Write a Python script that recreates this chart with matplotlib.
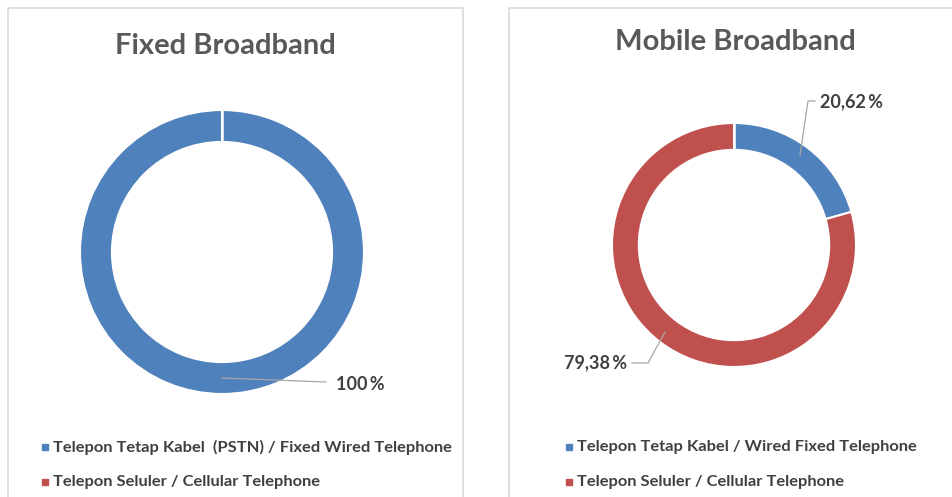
import matplotlib
matplotlib.use("Agg")
import matplotlib.pyplot as plt
from matplotlib.patches import Rectangle
from matplotlib.lines import Line2D

plt.rcParams['font.family'] = ['Lato', 'DejaVu Sans']

# ---- data ----
fixed_title = "Fixed Broadband"
fixed_labels = ["Telepon Tetap Kabel  (PSTN) / Fixed Wired Telephone",
                "Telepon Seluler / Cellular Telephone"]
fixed_values = [100, 0]

mobile_title = "Mobile Broadband"
mobile_labels = ["Telepon Tetap Kabel / Wired Fixed Telephone",
                 "Telepon Seluler / Cellular Telephone"]
mobile_values = [20.62, 79.38]

colors = ["#4F81BD", "#C0504D"]
W, H = 952, 497
TXT = "#404040"
GRAY = "#A6A6A6"

fig = plt.figure(figsize=(W / 100, H / 100), dpi=100)
fig.patch.set_facecolor("white")


def fx(px):
    return px / W


def fy(py):
    return 1 - py / H


# panel borders
for x0, x1 in [(8, 463), (509, 960)]:
    fig.patches.append(Rectangle((fx(x0), fy(505)), fx(x1) - fx(x0), fy(8) - fy(505),
                                 transform=fig.transFigure, fill=False,
                                 edgecolor="#D9D9D9", linewidth=1.2))


def fmt(v):
    s = f"{v:.2f}".replace(".", ",")
    if s.endswith(",00"):
        s = s[:-3]
    return s + "\u2009%"


def donut(cx, cy, R, width, values, title, title_x, title_y, labels, legend_x, label_specs):
    ax = fig.add_axes([fx(cx - R), fy(cy + R), fx(2 * R), (2 * R) / H])
    ax.axis("off")
    ax.pie(values, colors=colors, startangle=90, counterclock=False, radius=1,
           wedgeprops=dict(width=width, edgecolor="white", linewidth=1.5))
    ax.set_aspect("auto")
    ax.set_xlim(-1, 1)
    ax.set_ylim(-1, 1)
    # separator at 12 o'clock
    ax.plot([0, 0], [1 - width, 1], color="white", lw=1.8, zorder=5)

    fig.text(fx(title_x), fy(title_y), title, ha="center", va="center",
             fontsize=21, fontweight="bold", color="#595959")

    for (val, pts, tx, ty, ha) in label_specs:
        xs = [fx(p[0]) for p in pts]
        ys = [fy(p[1]) for p in pts]
        fig.lines.append(Line2D(xs, ys, transform=fig.transFigure, color=GRAY, lw=0.9))
        fig.text(fx(tx), fy(ty), fmt(val), ha=ha, va="center", fontsize=13,
                 fontweight="bold", color=TXT)

    for i, (lab, y) in enumerate(zip(labels, [447, 482])):
        fig.patches.append(Rectangle((fx(legend_x - 3), fy(y + 3)), 6 / W, 6 / H,
                                     transform=fig.transFigure, color=colors[i]))
        fig.text(fx(legend_x + 8), fy(y), lab, ha="left", va="center", fontsize=11.85,
                 fontweight="bold", color=TXT)


donut(222, 252, 142, 0.225, fixed_values, fixed_title, 225, 46, fixed_labels, 45,
      [(fixed_values[0], [(222, 378), (326, 382)], 336, 384, "left")])

donut(734, 245, 122, 0.22, mobile_values, mobile_title, 735, 42, mobile_labels, 569,
      [(mobile_values[0], [(800, 155), (808, 101), (815, 101)], 820, 102, "left"),
       (mobile_values[1], [(665, 332), (648, 363), (632, 363)], 627, 363, "right")])

fig.savefig("out.png", dpi=100, facecolor="white")
